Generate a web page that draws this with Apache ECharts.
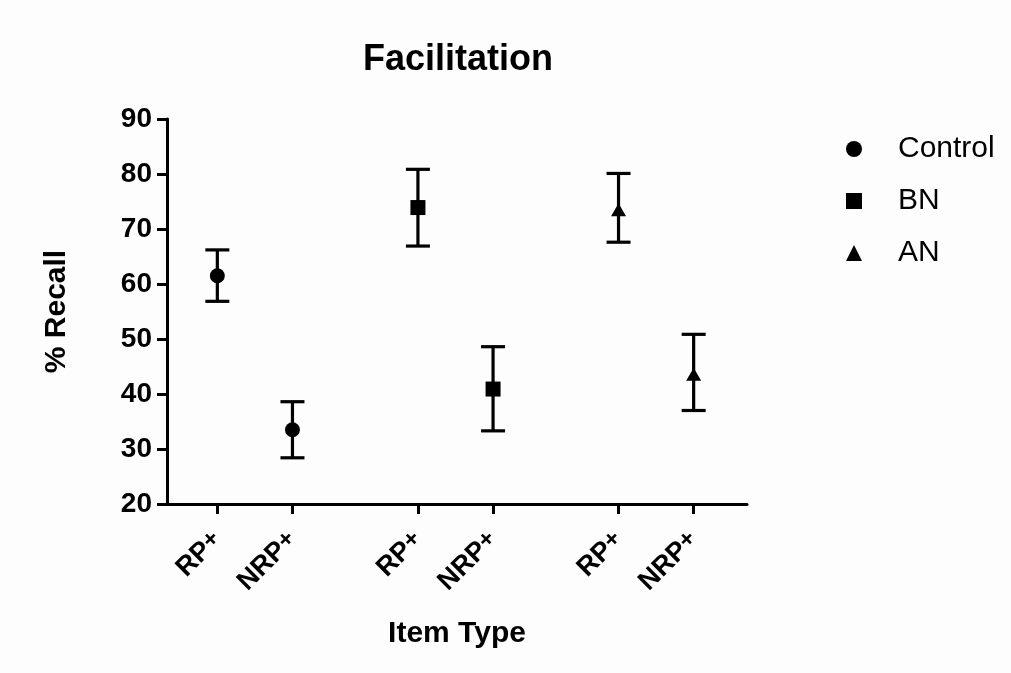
<!DOCTYPE html>
<html>
<head>
<meta charset="utf-8">
<script src="https://cdn.jsdelivr.net/npm/echarts@6/dist/echarts.min.js"></script>
<style>
html,body{margin:0;padding:0;background:#fdfdfd;}
#chart{width:1011px;height:673px;}
</style>
</head>
<body>
<div id="chart"></div>
<script>
// ---- data ----
var groups = ['Control', 'BN', 'AN'];
var itemTypes = ['RP', 'NRP'];          // shown with superscript "+"
var yTicks = [20, 30, 40, 50, 60, 70, 80, 90];
var controlMean = [61.5, 33.5];
var controlLow  = [56.85, 28.4];
var controlHigh = [66.2, 38.6];
var bnMean = [73.9, 40.9];
var bnLow  = [66.9, 33.3];
var bnHigh = [80.85, 48.6];
var anMean = [73.5, 43.6];
var anLow  = [67.6, 37.0];
var anHigh = [80.1, 50.85];

// ---- layout ----
var GROUP_STEP = 2.67;
var FONT = '"Liberation Sans", Arial, sans-serif';
var symbols = ['circle', 'rect', 'triangle'];
var symbolSizes = [15, 15, [15, 13]];
var means = [controlMean, bnMean, anMean];
var lows = [controlLow, bnLow, anLow];
var highs = [controlHigh, bnHigh, anHigh];

function pos(g, i) { return g * GROUP_STEP + i; }

var tickPositions = [], tickLabels = [];
groups.forEach(function (g, gi) {
  itemTypes.forEach(function (t, ti) {
    tickPositions.push(pos(gi, ti));
    tickLabels.push(t);
  });
});

function labelFor(v) {
  for (var k = 0; k < tickPositions.length; k++) {
    if (Math.abs(tickPositions[k] - v) < 1e-6) return '{b|' + tickLabels[k] + '}{s|+}';
  }
  return '';
}

var series = [];
groups.forEach(function (g, gi) {
  series.push({
    name: g + '_err',
    type: 'custom',
    z: 2,
    data: itemTypes.map(function (t, ti) { return [pos(gi, ti), lows[gi][ti], highs[gi][ti]]; }),
    encode: { x: 0, y: [1, 2] },
    renderItem: function (params, api) {
      var x = api.value(0), lo = api.value(1), hi = api.value(2);
      var pLo = api.coord([x, lo]), pHi = api.coord([x, hi]);
      var hw = 12;
      var st = { stroke: '#000', lineWidth: 3.2 };
      return {
        type: 'group',
        children: [
          { type: 'line', shape: { x1: pLo[0], y1: pLo[1], x2: pHi[0], y2: pHi[1] }, style: st },
          { type: 'line', shape: { x1: pLo[0] - hw, y1: pLo[1], x2: pLo[0] + hw, y2: pLo[1] }, style: st },
          { type: 'line', shape: { x1: pHi[0] - hw, y1: pHi[1], x2: pHi[0] + hw, y2: pHi[1] }, style: st }
        ]
      };
    },
    silent: true
  });
});
groups.forEach(function (g, gi) {
  series.push({
    name: g,
    type: 'scatter',
    z: 5,
    symbol: symbols[gi],
    symbolSize: symbolSizes[gi],
    itemStyle: { color: '#000', opacity: 1 },
    data: itemTypes.map(function (t, ti) { return [pos(gi, ti), means[gi][ti]]; })
  });
});

var chart = echarts.init(document.getElementById('chart'));
chart.setOption({
  backgroundColor: '#fdfdfd',
  animation: false,
  title: {
    text: 'Facilitation',
    left: 453,
    textAlign: 'center',
    top: 37,
    textStyle: { fontFamily: FONT, fontSize: 36, fontWeight: 'bold', color: '#000' }
  },
  legend: {
    data: groups.map(function (g, gi) { return { name: g, icon: symbols[gi] }; }),
    orient: 'vertical',
    left: 841,
    top: 129,
    itemWidth: 16,
    itemHeight: 16,
    itemGap: 22,
    itemStyle: { color: '#000' },
    textStyle: { fontFamily: FONT, fontSize: 30, color: '#000', lineHeight: 30, padding: [0, 0, 0, 31] }
  },
  grid: { left: 167, right: 264, top: 119, bottom: 169, containLabel: false },
  xAxis: {
    type: 'value',
    min: -0.67,
    max: 7.05,
    name: 'Item Type',
    nameLocation: 'middle',
    nameGap: 115,
    nameTextStyle: { fontFamily: FONT, fontSize: 30, fontWeight: 'bold', color: '#000' },
    axisLine: { show: true, onZero: false, lineStyle: { color: '#000', width: 3 } },
    axisTick: { show: true, length: 10, customValues: tickPositions, lineStyle: { color: '#000', width: 3 } },
    axisLabel: {
      customValues: tickPositions,
      rotate: 45,
      margin: 32,
      formatter: function (v) { return labelFor(v); },
      rich: {
        b: { fontFamily: FONT, fontSize: 27, fontWeight: 'bold', color: '#000' },
        s: { fontFamily: FONT, fontSize: 24, fontWeight: 'bold', color: '#000', verticalAlign: 'top' }
      }
    },
    splitLine: { show: false }
  },
  yAxis: {
    type: 'value',
    min: yTicks[0],
    max: yTicks[yTicks.length - 1],
    interval: 10,
    name: '% Recall',
    nameLocation: 'middle',
    nameGap: 95,
    nameTextStyle: { fontFamily: FONT, fontSize: 30, fontWeight: 'bold', color: '#000' },
    axisLine: { show: true, onZero: false, lineStyle: { color: '#000', width: 3 } },
    axisTick: { show: true, length: 10, lineStyle: { color: '#000', width: 3 } },
    axisLabel: { margin: 15, fontFamily: FONT, fontSize: 28, fontWeight: 'bold', color: '#000' },
    splitLine: { show: false }
  },
  series: series
});
</script>
</body>
</html>
